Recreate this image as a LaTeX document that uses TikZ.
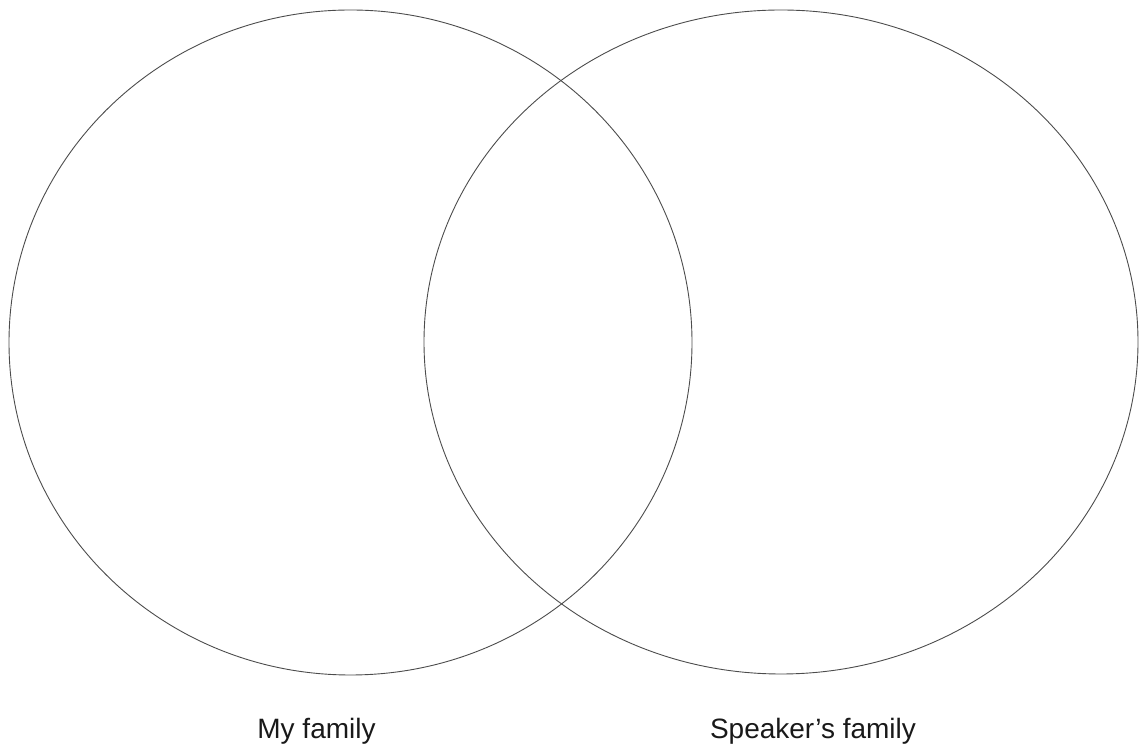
\documentclass[tikz,border=0pt]{standalone}
\usepackage{fontspec}
\setmainfont{Liberation Sans}
\begin{document}
\begin{tikzpicture}[x=1pt,y=1pt,
  venn/.style={draw=black!70,line width=0.9pt},
  lbl/.style={anchor=base,font=\fontsize{28}{32}\selectfont,text=black!90,inner sep=0pt}]
\useasboundingbox (0,0) rectangle (1141,749);
\draw[venn] (350.5,406.5) ellipse [x radius=341.5, y radius=332.5];
\draw[venn] (781,407) ellipse [x radius=357, y radius=332];
\node[lbl] (my) at (316.5,10) {My family};
\node[lbl] (sp) at (813,10) {Speaker’s family};
\end{tikzpicture}
\end{document}
